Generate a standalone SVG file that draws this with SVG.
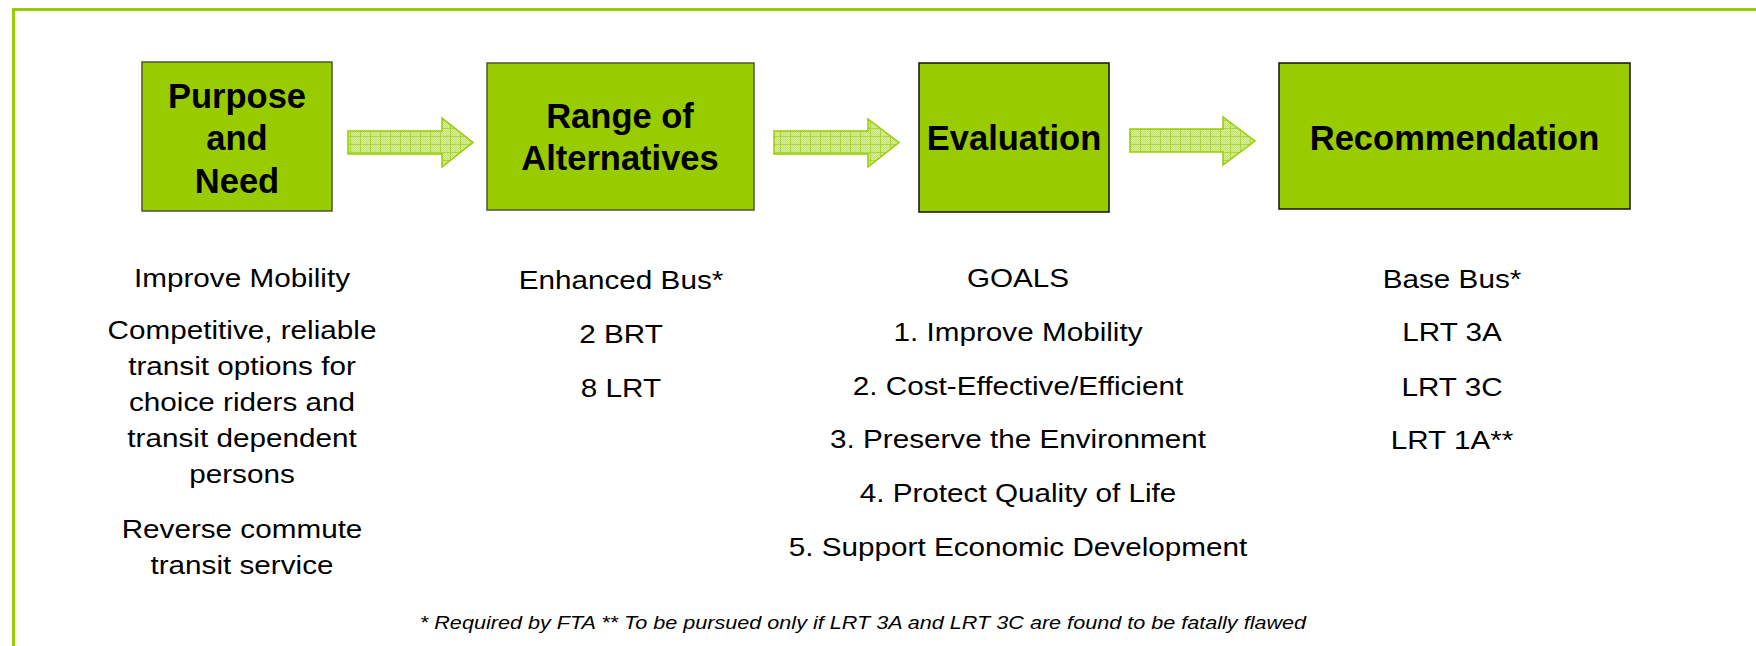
<svg xmlns="http://www.w3.org/2000/svg" width="1756" height="646" viewBox="0 0 1756 646">
<style>
.box{fill:#99cc00;stroke-width:1.5}
.b12{stroke:#4d5533}
.b34{stroke:#111}
.title{font-family:"Liberation Sans",Arial,sans-serif;font-weight:bold;font-size:34.5px;fill:#000;text-anchor:middle}
.body{font-family:"Liberation Sans",Arial,sans-serif;font-size:26.5px;fill:#000;text-anchor:middle}
.note{font-family:"Liberation Sans",Arial,sans-serif;font-style:italic;font-size:17.5px;fill:#000;text-anchor:middle}
.arrow{fill:url(#hatch);stroke:#99cc00;stroke-width:1.5}
</style>
<defs>
<pattern id="fine" width="2" height="2" patternUnits="userSpaceOnUse">
<rect width="2" height="2" fill="#d9ee9e"/>
<rect width="1" height="1" fill="#c3e26c"/>
<rect x="1" y="1" width="1" height="1" fill="#c3e26c"/>
</pattern>
<pattern id="hatch" width="10" height="8" patternUnits="userSpaceOnUse">
<rect width="10" height="8" fill="url(#fine)"/>
<path d="M0.5 0V8M0 0.5H10" stroke="#add63e" stroke-width="1"/>
</pattern>
</defs>
<rect width="1756" height="646" fill="#fff"/>
<rect x="13.5" y="9.5" width="1780" height="680" fill="none" stroke="#99cc00" stroke-width="3"/>

<g id="connectors">
<polygon class="arrow" points="348,131 442,131 442,118 473,142.5 442,167 442,154 348,154"/>
<polygon class="arrow" points="774,131 868,131 868,119 899,142.5 868,167 868,154 774,154"/>
<polygon class="arrow" points="1130,129 1223,129 1223,117 1255,141 1223,165 1223,152 1130,152"/>
</g>

<g id="node-purpose">
<rect class="box b12" x="142" y="62" width="190" height="149"/>
<text class="title" x="237" y="108">Purpose</text>
<text class="title" x="237" y="150">and</text>
<text class="title" x="237" y="193">Need</text>
<g transform="translate(242,0) scale(1.12,1)">
<text class="body" x="0" y="287">Improve Mobility</text>
<text class="body" x="0" y="339">Competitive, reliable</text>
<text class="body" x="0" y="375">transit options for</text>
<text class="body" x="0" y="411">choice riders and</text>
<text class="body" x="0" y="447">transit dependent</text>
<text class="body" x="0" y="483">persons</text>
<text class="body" x="0" y="538">Reverse commute</text>
<text class="body" x="0" y="574">transit service</text>
</g>
</g>

<g id="node-range">
<rect class="box b12" x="487" y="63" width="267" height="147"/>
<text class="title" x="620" y="128">Range of</text>
<text class="title" x="620" y="170">Alternatives</text>
<g transform="translate(621,0) scale(1.12,1)">
<text class="body" x="0" y="289">Enhanced Bus*</text>
<text class="body" x="0" y="343">2 BRT</text>
<text class="body" x="0" y="397">8 LRT</text>
</g>
</g>

<g id="node-evaluation">
<rect class="box b34" x="919" y="63" width="190" height="149"/>
<text class="title" x="1014" y="150">Evaluation</text>
<g transform="translate(1018,0) scale(1.12,1)">
<text class="body" x="0" y="287">GOALS</text>
<text class="body" x="0" y="341">1. Improve Mobility</text>
<text class="body" x="0" y="395">2. Cost-Effective/Efficient</text>
<text class="body" x="0" y="448">3. Preserve the Environment</text>
<text class="body" x="0" y="502">4. Protect Quality of Life</text>
<text class="body" x="0" y="556">5. Support Economic Development</text>
</g>
</g>

<g id="node-recommendation">
<rect class="box b34" x="1279" y="63" width="351" height="146"/>
<text class="title" x="1454.5" y="150">Recommendation</text>
<g transform="translate(1452,0) scale(1.12,1)">
<text class="body" x="0" y="288">Base Bus*</text>
<text class="body" x="0" y="341">LRT 3A</text>
<text class="body" x="0" y="396">LRT 3C</text>
<text class="body" x="0" y="449">LRT 1A**</text>
</g>
</g>

<g id="footnote" transform="translate(863,0) scale(1.235,1)">
<text class="note" x="0" y="629">* Required by FTA ** To be pursued only if LRT 3A and LRT 3C are found to be fatally flawed</text>
</g>
</svg>
